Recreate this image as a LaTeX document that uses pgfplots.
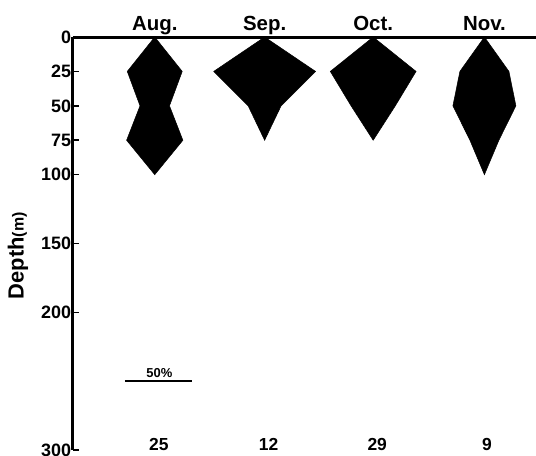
\documentclass[border=0pt]{standalone}
\usepackage{fontspec}
\setmainfont{Liberation Sans}
\usepackage{pgfplots}
\pgfplotsset{compat=1.18}
\begin{document}
\begin{tikzpicture}
\begin{axis}[
  scale only axis, width=463bp, height=413bp,
  xmin=0, xmax=345.5, ymin=0, ymax=300, y dir=reverse,
  axis x line=middle, axis y line=left,
  axis line style={-, line width=3bp, black},
  xtick=\empty,
  ytick={0,25,50,75,100,150,200,300},
  tick align=inside,
  major tick length=6bp,
  tick style={line width=1.6bp, black},
  /pgf/number format/assume math mode=true,
  yticklabel style={font=\fontsize{18}{18}\selectfont\bfseries, xshift=1.5bp},
  clip=false,
]
% Aug.
\addplot[fill=black, draw=black, line width=0.5bp] coordinates {
 (61,0) (81.5,25) (72,50) (82,75) (61,100) (40,75) (50,50) (40.5,25)} -- cycle;
% Sep.
\addplot[fill=black, draw=black, line width=0.5bp] coordinates {
 (143,0) (181,25) (155.3,50) (143,75) (130.7,50) (105,25)} -- cycle;
% Oct.
\addplot[fill=black, draw=black, line width=0.5bp] coordinates {
 (224,0) (256,25) (240.5,50) (224,75) (207.5,50) (192,25)} -- cycle;
% Nov.
\addplot[fill=black, draw=black, line width=0.5bp] coordinates {
 (307,0) (325.3,25) (330.5,50) (317.8,75) (307,100) (296.2,75) (283.5,50) (288.7,25)} -- cycle;
% scale bar 50%
\addplot[black, line width=2.2bp] coordinates {(38.8,250) (88.6,250)};
\node[font=\fontsize{13}{13}\selectfont\bfseries, anchor=south, inner sep=0pt] at (axis cs:64.5,247.5) {50\%};
% month labels
\foreach \c/\m in {61/Aug.,143/Sep.,224/Oct.,307/Nov.}{
  \edef\tmp{\noexpand\node[font=\noexpand\fontsize{20.5}{20.5}\noexpand\selectfont\noexpand\bfseries, anchor=base, inner sep=0pt] at (axis cs:\c,0) [yshift=6.5bp] {\m};}\tmp
}
% counts
\foreach \c/\n in {64/25,146/12,227/29,309/9}{
  \edef\tmp{\noexpand\node[font=\noexpand\fontsize{17.5}{17.5}\noexpand\selectfont\noexpand\bfseries, anchor=base, inner sep=0pt] at (axis cs:\c,300) {\n};}\tmp
}
% y label
\node[rotate=90, anchor=center, inner sep=0pt, font=\bfseries] at (axis cs:-41,159)
  {\fontsize{22}{22}\selectfont Depth\fontsize{16}{16}\selectfont(m)};
\coordinate (TL) at (axis cs:0,0);
\coordinate (BR) at (axis cs:345.5,300);
\end{axis}
\pgfresetboundingbox
\path ([xshift=-73bp,yshift=37bp]TL) rectangle ([yshift=-6bp]BR);
\end{tikzpicture}
\end{document}
